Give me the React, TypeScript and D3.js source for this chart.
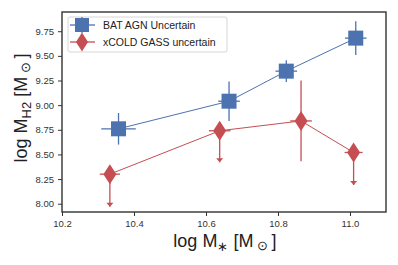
import React, { useRef, useEffect } from "react"
import * as d3 from "d3"

// BAT AGN points (symmetric errors)
const batX = [10.357, 10.664, 10.823, 11.016]
const batY = [8.76, 9.04, 9.345, 9.68]
const batYErr = [0.16, 0.2, 0.11, 0.17]
const batXErr = [0.048, 0.03, 0.03, 0.03]

// xCOLD GASS points, upper limits drawn as arrows down
const coldX = [10.333, 10.638, 10.864, 11.01]
const coldY = [8.3, 8.74, 8.84, 8.52]
const coldLow = [7.97, 8.42, 8.43, 8.19]
const coldHigh = [8.3, 8.74, 9.25, 8.52]
const coldLimit = [true, true, false, true]
const coldXErr = [0.028, 0.03, 0.03, 0.025]

const xTicks = [10.2, 10.4, 10.6, 10.8, 11.0]
const yTicks = [8.0, 8.25, 8.5, 8.75, 9.0, 9.25, 9.5, 9.75]

const BLUE = "#4c72b0"
const RED = "#c44e52"

export default function App() {
  const svgRef = useRef<SVGSVGElement>(null)

  useEffect(() => {
    const svg = d3.select(svgRef.current)
    svg.selectAll("*").remove()

    const left = 62, top = 12, right = 386, bottom = 212
    const x = d3.scaleLinear().domain([10.2, 11.1]).range([left, right])
    const y = d3.scaleLinear().domain([7.916, 9.945]).range([bottom, top])

    const font = "'Liberation Sans', Arial, sans-serif"

    // axes
    svg.append("g")
      .attr("transform", `translate(0,${bottom})`)
      .call(d3.axisBottom(x).tickValues(xTicks).tickFormat(d3.format(".1f")).tickSize(4).tickPadding(4))
      .call(g => g.select(".domain").remove())
      .call(g => g.selectAll("line").attr("stroke", "#333").attr("stroke-width", 1))
      .call(g => g.selectAll("text").attr("fill", "#333").attr("font-size", "9.5px").attr("font-family", font))

    svg.append("g")
      .attr("transform", `translate(${left},0)`)
      .call(d3.axisLeft(y).tickValues(yTicks).tickFormat(d3.format(".2f")).tickSize(4).tickPadding(4))
      .call(g => g.select(".domain").remove())
      .call(g => g.selectAll("line").attr("stroke", "#333").attr("stroke-width", 1))
      .call(g => g.selectAll("text").attr("fill", "#333").attr("font-size", "9.5px").attr("font-family", font))

    svg.append("rect")
      .attr("x", left).attr("y", top)
      .attr("width", right - left).attr("height", bottom - top)
      .attr("fill", "none").attr("stroke", "#333").attr("stroke-width", 1.4)

    // BAT series
    const batLine = d3.line<number>().x((d, i) => x(batX[i])).y(d => y(d))
    svg.append("path").datum(batY).attr("d", batLine)
      .attr("fill", "none").attr("stroke", BLUE).attr("stroke-width", 1)

    const bat = svg.append("g")
    batY.forEach((v, i) => {
      bat.append("line")
        .attr("x1", x(batX[i])).attr("x2", x(batX[i]))
        .attr("y1", y(v - batYErr[i])).attr("y2", y(v + batYErr[i]))
        .attr("stroke", BLUE).attr("stroke-width", 1.3)
      bat.append("line")
        .attr("x1", x(batX[i] - batXErr[i])).attr("x2", x(batX[i] + batXErr[i]))
        .attr("y1", y(v)).attr("y2", y(v))
        .attr("stroke", BLUE).attr("stroke-width", 1.3)
      bat.append("rect")
        .attr("x", x(batX[i]) - 7.5).attr("y", y(v) - 7.5)
        .attr("width", 15).attr("height", 15)
        .attr("fill", BLUE)
    })

    // xCOLD series
    const coldLine = d3.line<number>().x((d, i) => x(coldX[i])).y(d => y(d))
    svg.append("path").datum(coldY).attr("d", coldLine)
      .attr("fill", "none").attr("stroke", RED).attr("stroke-width", 1)

    const diamond = (cx: number, cy: number, w: number, h: number) =>
      `M${cx},${cy - h / 2}L${cx + w / 2},${cy}L${cx},${cy + h / 2}L${cx - w / 2},${cy}Z`

    const cold = svg.append("g")
    coldY.forEach((v, i) => {
      const cx = x(coldX[i])
      cold.append("line")
        .attr("x1", cx).attr("x2", cx)
        .attr("y1", y(coldLow[i])).attr("y2", y(coldHigh[i]))
        .attr("stroke", RED).attr("stroke-width", 1.3)
      if (coldLimit[i]) {
        const ay = y(coldLow[i])
        cold.append("path")
          .attr("d", `M${cx - 3.5},${ay - 4}L${cx + 3.5},${ay - 4}L${cx},${ay}Z`)
          .attr("fill", RED)
      }
      cold.append("line")
        .attr("x1", x(coldX[i] - coldXErr[i])).attr("x2", x(coldX[i] + coldXErr[i]))
        .attr("y1", y(v)).attr("y2", y(v))
        .attr("stroke", RED).attr("stroke-width", 1.3)
      cold.append("path").attr("d", diamond(cx, y(v), 13, 20)).attr("fill", RED)
    })

    // legend
    const lg = svg.append("g")
    lg.append("rect")
      .attr("x", 68).attr("y", 17).attr("width", 159).attr("height", 35).attr("rx", 2)
      .attr("fill", "white").attr("fill-opacity", 0.85)
      .attr("stroke", "#ccc").attr("stroke-width", 0.8)
    const rows = [
      { label: "BAT AGN Uncertain", color: BLUE, yy: 25, kind: "sq" },
      { label: "xCOLD GASS uncertain", color: RED, yy: 42, kind: "dm" },
    ]
    rows.forEach(r => {
      lg.append("line").attr("x1", 70).attr("x2", 95).attr("y1", r.yy).attr("y2", r.yy)
        .attr("stroke", r.color).attr("stroke-width", 1.3)
      lg.append("line").attr("x1", 82).attr("x2", 82).attr("y1", r.yy - 8).attr("y2", r.yy + 8)
        .attr("stroke", r.color).attr("stroke-width", 1.3)
      if (r.kind === "sq") {
        lg.append("rect").attr("x", 75).attr("y", r.yy - 7).attr("width", 14).attr("height", 14).attr("fill", r.color)
      } else {
        lg.append("path").attr("d", diamond(82, r.yy, 12, 19)).attr("fill", r.color)
      }
      lg.append("text").attr("x", 103).attr("y", r.yy).attr("dy", "0.35em")
        .attr("font-size", "10.5px").attr("font-family", font).attr("fill", "#222")
        .text(r.label)
    })

    // axis labels
    const xl = svg.append("text")
      .attr("x", 225).attr("y", 247).attr("text-anchor", "middle")
      .attr("font-size", "18px").attr("font-family", font).attr("fill", "#222")
    xl.append("tspan").text("log M")
    xl.append("tspan").attr("font-size", "13px").attr("dy", 4).text("∗")
    xl.append("tspan").attr("dy", -4).text(" [M")
    xl.append("tspan").attr("font-size", "13px").attr("dy", 3).text(" ⊙ ")
    xl.append("tspan").attr("dy", -3).text("]")

    const yl = svg.append("text")
      .attr("transform", "translate(27,108) rotate(-90)")
      .attr("text-anchor", "middle")
      .attr("font-size", "18px").attr("font-family", font).attr("fill", "#222")
    yl.append("tspan").text("log M")
    yl.append("tspan").attr("font-size", "13px").attr("dy", 4).text("H2")
    yl.append("tspan").attr("dy", -4).text(" [M")
    yl.append("tspan").attr("font-size", "13px").attr("dy", 3).text(" ⊙ ")
    yl.append("tspan").attr("dy", -3).text("]")
  }, [])

  return (
    <svg ref={svgRef} width={398} height={265}
      style={{ position: "absolute", left: 0, top: 0, background: "white" }} />
  )
}
